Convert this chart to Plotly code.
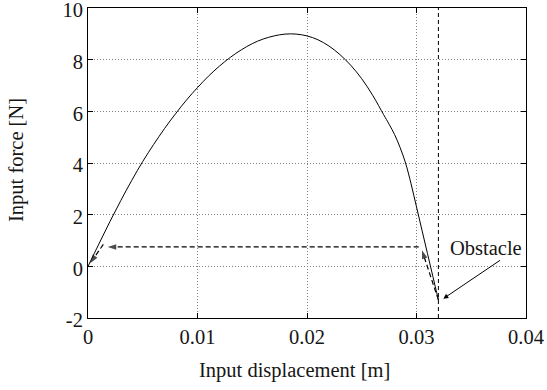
import plotly.graph_objects as go

# Force-displacement curve
curve_x = [0, 0.001, 0.002, 0.003, 0.004, 0.005, 0.006, 0.007, 0.008, 0.009,
           0.010, 0.011, 0.012, 0.013, 0.014, 0.015, 0.016, 0.017, 0.018, 0.019,
           0.020, 0.021, 0.022, 0.023, 0.024, 0.025, 0.026, 0.027, 0.0275, 0.028,
           0.0285, 0.029, 0.0295, 0.030, 0.0305, 0.031, 0.0315, 0.0320]
curve_y = [0, 0.87, 1.73, 2.55, 3.33, 4.06, 4.72, 5.34, 5.91, 6.44,
           6.92, 7.36, 7.75, 8.09, 8.38, 8.62, 8.80, 8.92, 8.99, 8.99,
           8.92, 8.77, 8.53, 8.20, 7.78, 7.26, 6.62, 5.87, 5.50, 5.10,
           4.60, 4.0, 3.2, 2.3, 1.4, 0.5, -0.4, -1.3]

# Obstacle position
obstacle_x = 0.032

# Dashed return path (three arrows)
up_x = [0.0320, 0.0305]
up_y = [-1.3, 0.62]
left_x = [0.0302, 0.0018]
left_y = [0.75, 0.75]
diag_x = [0.0014, 0.0002]
diag_y = [0.85, 0.12]

x_ticks = [0, 0.01, 0.02, 0.03, 0.04]
x_tick_labels = ["0", "0.01", "0.02", "0.03", "0.04"]
y_ticks = [-2, 0, 2, 4, 6, 8, 10]
y_tick_labels = ["-2", "0", "2", "4", "6", "8", "10"]

FONT = "Liberation Serif, Times New Roman, serif"
TXT = "#161616"
FS = 20.5

L, R, T, B = 88, 21, 8, 72
W, H = 547, 390
PW, PH = W - L - R, H - T - B


def px_to_paper(px, py):
    return (px - L) / PW, (H - B - py) / PH


fig = go.Figure()

fig.add_trace(go.Scatter(x=curve_x, y=curve_y, mode="lines",
                         line=dict(color="black", width=1, shape="spline", smoothing=1.0),
                         showlegend=False, hoverinfo="skip", cliponaxis=False))

fig.add_trace(go.Scatter(x=[obstacle_x, obstacle_x], y=[-2, 10], mode="lines",
                         line=dict(color="black", width=1, dash="4px,3px"),
                         showlegend=False, hoverinfo="skip"))

for px, py in [(up_x, up_y), (left_x, left_y), (diag_x, diag_y)]:
    fig.add_trace(go.Scatter(x=px, y=py, mode="lines+markers",
                             line=dict(color="black", width=1.2, dash="5px,3px"),
                             marker=dict(symbol="arrow", size=[0, 9], color="black",
                                         angleref="previous", line=dict(width=0)),
                             showlegend=False, hoverinfo="skip", cliponaxis=False))

fig.add_annotation(x=0.03245, y=-1.25, ax=0.03776, ay=0.27, xref="x", yref="y",
                   axref="x", ayref="y", text="", showarrow=True,
                   arrowhead=2, arrowsize=1, arrowwidth=1, arrowcolor="black")
fig.add_annotation(x=0.03632, y=0.70, xref="x", yref="y", text="Obstacle",
                   xanchor="center", yanchor="middle",
                   showarrow=False, font=dict(family=FONT, size=FS, color=TXT))

ax_x, ax_y = px_to_paper(294, 370)
fig.add_annotation(x=ax_x, y=ax_y, xref="paper", yref="paper", text="Input displacement [m]",
                   xanchor="center", yanchor="middle",
                   showarrow=False, font=dict(family=FONT, size=FS, color=TXT))
ay_x, ay_y = px_to_paper(16, 160)
fig.add_annotation(x=ay_x, y=ay_y, xref="paper", yref="paper", text="Input force [N]",
                   xanchor="center", yanchor="middle",
                   textangle=-90, showarrow=False, font=dict(family=FONT, size=FS, color=TXT))

axis_common = dict(showline=True, linecolor="black", linewidth=1, mirror="ticks",
                   ticks="inside", ticklen=5, tickcolor="black", automargin=False,
                   ticklabeloverflow="allow",
                   showgrid=True, gridcolor="#808080", griddash="1px,2px", gridwidth=1,
                   zeroline=False, tickfont=dict(family=FONT, size=FS, color=TXT))

fig.update_xaxes(range=[0, 0.04], tickvals=x_ticks, ticktext=x_tick_labels, **axis_common)
fig.update_yaxes(range=[-2, 10], tickvals=y_ticks, ticktext=y_tick_labels,
                 ticklabelshift=2, **axis_common)

fig.update_layout(width=W, height=H, margin=dict(l=L, r=R, t=T, b=B),
                  paper_bgcolor="white", plot_bgcolor="white",
                  font=dict(family=FONT, size=FS, color=TXT))

fig.write_html("out.html", config={"displayModeBar": False},
               post_script="document.body.style.margin='0';document.body.style.overflow='hidden';")
